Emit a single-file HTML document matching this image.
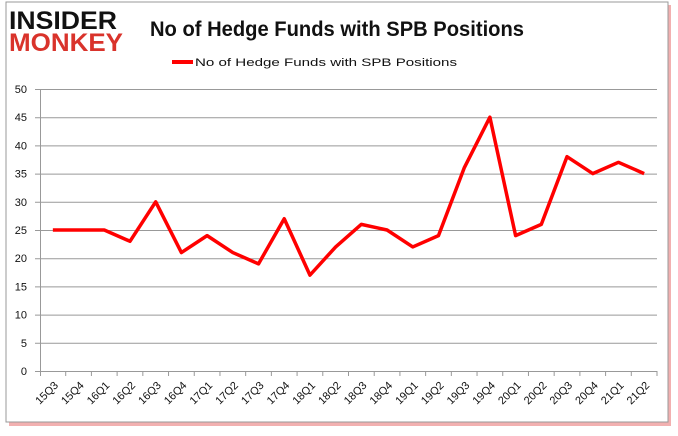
<!DOCTYPE html>
<html><head><style>
body{margin:0;width:678px;height:431px;background:#fff;overflow:hidden}
</style></head><body>
<svg width="678" height="431" xmlns="http://www.w3.org/2000/svg" font-family="Liberation Sans, sans-serif">
<rect x="9" y="5" width="662" height="421" fill="#f2b0b0"/>
<rect x="6" y="2" width="662" height="420" fill="#fff" stroke="#999" stroke-width="1"/>
<text x="9" y="29" font-size="25" font-weight="bold" fill="#111" textLength="108" lengthAdjust="spacingAndGlyphs">INSIDER</text>
<text x="9" y="51" font-size="25" font-weight="bold" fill="#d9332b" textLength="114" lengthAdjust="spacingAndGlyphs">MONKEY</text>
<text x="150" y="36" font-size="21" font-weight="bold" fill="#111" textLength="374" lengthAdjust="spacingAndGlyphs">No of Hedge Funds with SPB Positions</text>
<line x1="172" y1="62" x2="193" y2="62" stroke="#f00" stroke-width="4"/>
<text x="195" y="66" font-size="11" fill="#111" textLength="262" lengthAdjust="spacingAndGlyphs">No of Hedge Funds with SPB Positions</text>
<g stroke="#999" stroke-width="1" id="grid"></g>
<g id="lbl" font-size="11" fill="#111"></g>
<polyline id="pl" fill="none" stroke="#f00" stroke-width="3.5" stroke-linejoin="round"/>
</svg>
<script>
var g=document.getElementById('grid'),l=document.getElementById('lbl'),ns='http://www.w3.org/2000/svg';
function el(t,a,p){var e=document.createElementNS(ns,t);for(var k in a)e.setAttribute(k,a[k]);p.appendChild(e);return e;}
var y0=371,k=5.64,x0=40,w=617/24;
for(var v=0;v<=50;v+=5){var y=y0-v*k;el('line',{x1:35,x2:657,y1:y+.5,y2:y+.5},g);var t=el('text',{x:27,y:y+4,'text-anchor':'end'},l);t.textContent=v;}
el('line',{x1:40.5,x2:40.5,y1:89,y2:376},g);
var labs=[];for(var yr=15;yr<=21;yr++)for(var q=1;q<=4;q++){if(yr==15&&q<3)continue;if(yr==21&&q>2)continue;labs.push(yr+'Q'+q);}
var d=[25,25,25,23,30,21,24,21,19,27,17,22,26,25,22,24,36,45,24,26,38,35,37,35],pts=[];
for(var i=0;i<24;i++){var x=x0+w*(i+.5);pts.push(x+','+(y0-d[i]*k));
el('line',{x1:x0+w*(i+1),x2:x0+w*(i+1),y1:371,y2:376},g);
var t=el('text',{x:x+6,y:386,'text-anchor':'end',transform:'rotate(-45 '+(x+6)+' 386)'},l);t.textContent=labs[i];}
document.getElementById('pl').setAttribute('points',pts.join(' '));
</script>
</body></html>
